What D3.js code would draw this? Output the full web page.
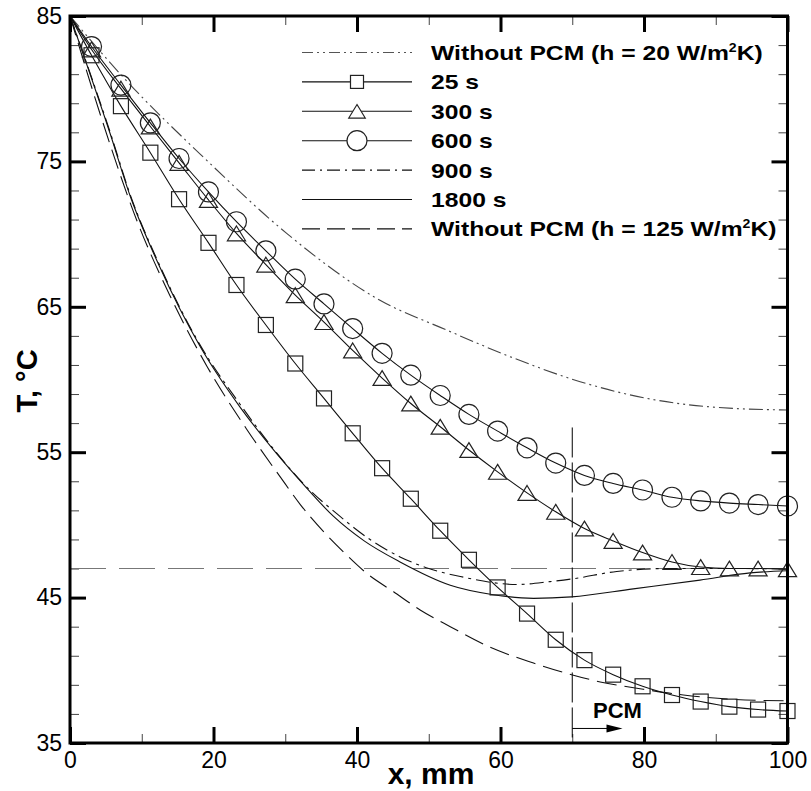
<!DOCTYPE html>
<html><head><meta charset="utf-8">
<script src="https://cdn.jsdelivr.net/npm/d3@7/dist/d3.min.js"></script>
<style>body{margin:0;background:#fff}svg{display:block}</style>
</head><body><svg id="c" width="811" height="791"></svg>
<script>
// ---------- data ----------
const markerX = [3,7.1,11.2,15.2,19.3,23.2,27.3,31.4,35.4,39.4,43.5,47.5,51.6,55.6,59.6,63.7,67.7,71.7,75.7,79.8,83.9,87.9,91.9,95.9,100];
const t25  = [82.3,78.8,75.6,72.4,69.4,66.5,63.75,61.1,58.7,56.3,53.9,51.8,49.6,47.6,45.7,43.9,42.1,40.7,39.7,38.9,38.3,37.85,37.5,37.3,37.2];
const t300 = [82.7,80.0,77.4,74.9,72.35,70.05,67.9,65.8,63.95,62.0,60.1,58.35,56.75,55.15,53.65,52.2,50.9,49.75,48.9,48.1,47.45,47.1,47.0,47.0,46.95];
const t600 = [82.9,80.25,77.65,75.2,72.9,70.85,68.85,66.9,65.2,63.5,61.8,60.3,58.9,57.6,56.45,55.3,54.25,53.4,52.85,52.4,51.9,51.65,51.5,51.4,51.3];
const x900  = [0,5.6,8.4,12.5,18.1,23.7,28.8,32.5,37.6,41.5,46.0,50.0,54.4,62.3,66.9,70.2,76.2,83.2,92.5,100];
const t900  = [85,77.0,72.7,67.85,62.4,58.3,54.95,52.85,50.6,49.1,47.8,47.0,46.45,45.9,46.1,46.3,46.8,47.0,47.0,46.97];
const x1800 = [0,5.6,8.4,12.5,18.1,23.7,28.8,32.5,36.7,41.0,46.0,53.0,59.0,64.6,69.9,78.5,87.8,94.8,100];
const t1800 = [85,76.9,72.6,67.75,62.3,58.1,54.9,52.8,50.6,48.9,47.45,45.85,45.2,44.95,45.05,45.6,46.2,46.7,46.85];
const xH20  = [0,7.4,19.0,30.2,43.2,52.5,61.7,71.1,80.4,89.6,100];
const tH20  = [85,80.8,75.1,70.05,65.45,63.4,61.5,59.85,58.7,58.1,57.9];
const xH125 = [0,4.5,9.3,13.9,19.1,24.6,29.3,32.1,38.1,41.4,45.1,48.8,53.0,58.5,64.6,69.9,73.9,79.9,85.5,92.5,100];
const tH125 = [85,77.8,70.95,65.8,60.9,56.6,53.3,51.4,48.15,46.65,45.4,44.15,43.0,41.6,40.5,39.7,39.2,38.7,38.3,38.0,37.9];
const tMelt = 47;          // horizontal reference line
const xPCM = 70;           // start of PCM region
const xPCMline = [56.7,35];// vertical extent (T) of PCM divider
const xMajor = [0,20,40,60,80,100];
const xMinor = [10,30,50,70,90];
const xTickLabels = ["0","20","40","60","80","100"];
const yMajor = [35,45,55,65,75,85];
const yMinor = [37,39,41,43,47,49,51,53,57,59,61,63,67,69,71,73,77,79,81,83];
const yTickLabels = ["35","45","55","65","75","85"];
const legendLabels = ["Without PCM (h = 20 W/m^2K)","25 s","300 s","600 s","900 s","1800 s","Without PCM (h = 125 W/m^2K)"];
const xTitle = "x, mm";
const yTitle = "T, °C";
const pcmLabel = "PCM";

// ---------- layout / style ----------
const FONT = "'Liberation Sans', Arial, Helvetica, sans-serif";
const svg = d3.select("#c");
const x = d3.scaleLinear().domain([0,100]).range([70,787.5]);
const y = d3.scaleLinear().domain([35,85]).range([743,16]);
const zip = (a,b) => a.map((v,i)=>[v,b[i]]);
const line = d3.line().x(d=>x(d[0])).y(d=>y(d[1])).curve(d3.curveMonotoneX);

svg.append("defs").append("clipPath").attr("id","clip")
  .append("rect").attr("x",x(0)).attr("y",y(85)).attr("width",x(100)-x(0)).attr("height",y(35)-y(85));

function styleAxis(g, w, col){
  g.select(".domain").remove();
  g.selectAll(".tick line").attr("stroke",col).attr("stroke-width",w);
  g.selectAll(".tick text").attr("font-family",FONT).attr("font-size",23).attr("fill","#000");
}
svg.append("g").attr("transform",`translate(0,${y(35)})`)
  .call(d3.axisBottom(x).tickValues(xMinor).tickSize(-9).tickSizeOuter(0).tickFormat(""))
  .call(g=>styleAxis(g,1,"#444"));
svg.append("g").attr("transform",`translate(0,${y(85)})`)
  .call(d3.axisTop(x).tickValues(xMinor).tickSize(-9).tickSizeOuter(0).tickFormat(""))
  .call(g=>styleAxis(g,1,"#444"));
svg.append("g").attr("transform",`translate(${x(0)},0)`)
  .call(d3.axisLeft(y).tickValues(yMinor).tickSize(-9).tickSizeOuter(0).tickFormat(""))
  .call(g=>styleAxis(g,1,"#444"));
svg.append("g").attr("transform",`translate(${x(100)},0)`)
  .call(d3.axisRight(y).tickValues(yMinor).tickSize(-9).tickSizeOuter(0).tickFormat(""))
  .call(g=>styleAxis(g,1,"#444"));

svg.append("g").attr("transform",`translate(0,${y(35)})`)
  .call(d3.axisBottom(x).tickValues(xMajor).tickSize(-16).tickSizeOuter(0).tickPadding(9).tickFormat((d,i)=>xTickLabels[i]))
  .call(g=>styleAxis(g,3,"#000"));
svg.append("g").attr("transform",`translate(0,${y(85)})`)
  .call(d3.axisTop(x).tickValues(xMajor).tickSize(-16).tickSizeOuter(0).tickFormat(""))
  .call(g=>styleAxis(g,3,"#000"));
svg.append("g").attr("transform",`translate(${x(0)},0)`)
  .call(d3.axisLeft(y).tickValues(yMajor).tickSize(-16).tickSizeOuter(0).tickPadding(8).tickFormat((d,i)=>yTickLabels[i]))
  .call(g=>styleAxis(g,3,"#000"));
svg.append("g").attr("transform",`translate(${x(100)},0)`)
  .call(d3.axisRight(y).tickValues(yMajor).tickSize(-16).tickSizeOuter(0).tickFormat(""))
  .call(g=>styleAxis(g,3,"#000"));

// reference lines
const plot = svg.append("g").attr("clip-path","url(#clip)");
plot.append("line").attr("x1",x(0)).attr("x2",x(100)).attr("y1",y(tMelt)).attr("y2",y(tMelt))
  .attr("stroke","#777").attr("stroke-width",1.2).attr("stroke-dasharray","36,13");
plot.append("line").attr("x1",x(xPCM)).attr("x2",x(xPCM)).attr("y1",y(xPCMline[0])).attr("y2",y(xPCMline[1]))
  .attr("stroke","#000").attr("stroke-width",1).attr("stroke-dasharray","30,5");

// curves
const curves = [
  {xs:xH20, ts:tH20, dash:"14,4,2,4,2,4", col:"#444"},
  {xs:x900, ts:t900, dash:"14,5,3,5", col:"#111"},
  {xs:x1800, ts:t1800, dash:null, col:"#111"},
  {xs:xH125, ts:tH125, dash:"20,8", col:"#111"},
  {xs:[0,...markerX], ts:[85,...t25], dash:null, col:"#111"},
  {xs:[0,...markerX], ts:[85,...t300], dash:null, col:"#111"},
  {xs:[0,...markerX], ts:[85,...t600], dash:null, col:"#111"}
];
curves.forEach(c=>{
  plot.append("path").attr("d",line(zip(c.xs,c.ts))).attr("fill","none")
    .attr("stroke",c.col).attr("stroke-width",1.1).attr("stroke-dasharray",c.dash);
});

// markers
function marker(g, type, cx, cy, s){
  if(type==="square") g.append("rect").attr("x",cx-s/2).attr("y",cy-s/2).attr("width",s).attr("height",s);
  else if(type==="triangle") g.append("path").attr("d",`M${cx},${cy-s*0.45}L${cx+s*0.55},${cy+s*0.45}L${cx-s*0.55},${cy+s*0.45}Z`);
  else if(type==="circle") g.append("circle").attr("cx",cx).attr("cy",cy).attr("r",s/2);
}
const mk = svg.append("g").attr("fill","none").attr("stroke","#222").attr("stroke-width",1.2);
zip(markerX,t25).forEach(d=>marker(mk,"square",x(d[0]),y(d[1]),15));
zip(markerX,t300).forEach(d=>marker(mk,"triangle",x(d[0]),y(d[1]),16.5));
zip(markerX,t600).forEach(d=>marker(mk,"circle",x(d[0]),y(d[1]),20));

// frame
svg.append("rect").attr("x",x(0)).attr("y",y(85)).attr("width",x(100)-x(0)).attr("height",y(35)-y(85))
  .attr("fill","none").attr("stroke","#000").attr("stroke-width",3);

// PCM arrow
const ay = y(36.0);
svg.append("line").attr("x1",x(xPCM)).attr("x2",x(77)-12).attr("y1",ay).attr("y2",ay).attr("stroke","#000").attr("stroke-width",1);
svg.append("path").attr("d",`M${x(77)},${ay}L${x(77)-16},${ay-4}L${x(77)-16},${ay+4}Z`).attr("fill","#000");
svg.append("text").attr("x",x(76.3)).attr("y",y(36.75)).attr("text-anchor","middle")
  .attr("font-family",FONT).attr("font-weight","bold").attr("font-size",22).text(pcmLabel);

// titles
svg.append("text").attr("x",431).attr("y",784).attr("text-anchor","middle")
  .attr("font-family",FONT).attr("font-weight","bold").attr("font-size",30).text(xTitle);
svg.append("text").attr("transform","translate(37,381) rotate(-90)").attr("text-anchor","middle")
  .attr("font-family",FONT).attr("font-weight","bold").attr("font-size",29).text(yTitle);

// legend
const legStyles = [
  {dash:"11,4,2,4,2,4", col:"#555", m:null},
  {dash:null, col:"#111", m:"square", s:13},
  {dash:null, col:"#111", m:"triangle", s:15},
  {dash:null, col:"#111", m:"circle", s:20},
  {dash:"13,5,2,5", col:"#111", m:null},
  {dash:null, col:"#111", m:null},
  {dash:"18,7", col:"#111", m:null}
];
const legY0 = 52.5, legDy = 29.4;
legendLabels.forEach((lab,i)=>{
  const ly = legY0 + i*legDy, st = legStyles[i];
  svg.append("line").attr("x1",302).attr("x2",412).attr("y1",ly).attr("y2",ly)
    .attr("stroke",st.col).attr("stroke-width",1.1).attr("stroke-dasharray",st.dash);
  if(st.m) { const g = svg.append("g").attr("fill","#fff").attr("stroke","#222").attr("stroke-width",1.2); marker(g,st.m,357,ly,st.s); }
  const t = svg.append("text").attr("transform",`translate(431,${ly+7.5}) scale(1.175,1)`)
    .attr("font-family",FONT).attr("font-weight","bold").attr("font-size",21);
  const parts = lab.split("^2");
  t.append("tspan").text(parts[0]);
  if(parts.length>1){
    t.append("tspan").attr("dy",-8).attr("font-size",12).text("2");
    t.append("tspan").attr("dy",8).text(parts[1]);
  }
});
</script></body></html>
